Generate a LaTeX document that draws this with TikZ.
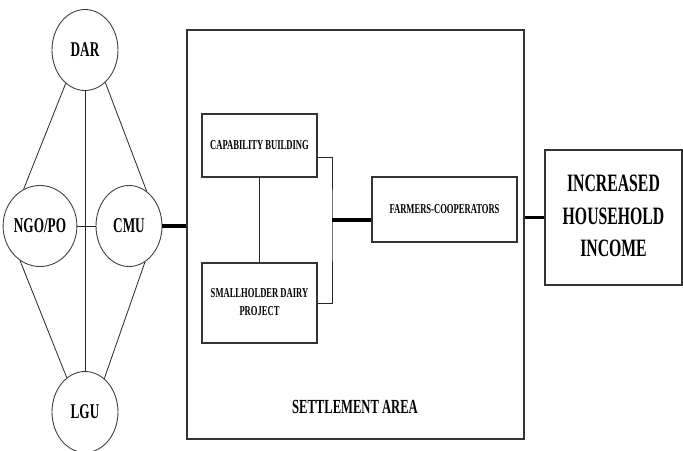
\documentclass[tikz,border=0pt]{standalone}
\usepackage{fontspec}
\setmainfont{Liberation Serif}
\usepackage{graphicx}
\usepackage{tikz}
\usetikzlibrary{shapes.geometric}

\newcommand{\squeeze}[1]{\scalebox{0.63}[1]{#1}}

\begin{document}
\begin{tikzpicture}[%
      x=1pt, y=-1pt,
      agency/.style={draw=black!75, line width=0.9pt, ellipse, inner sep=0pt,
        minimum width=66pt, minimum height=81pt,
        font=\fontsize{21}{24}\selectfont\bfseries},
      block/.style={draw=black!80, line width=1.1pt, rectangle, inner sep=0pt,
        font=\fontsize{13.6}{17.5}\selectfont\bfseries},
      link/.style={color=black!85, line width=0.8pt},
      heavy/.style={color=black, line width=3.5pt},
      ]
      \useasboundingbox (0,0) rectangle (683,450);

      \node[agency] (dar) at (85,50) {\squeeze{DAR}};
      \node[agency] (ngo) at (40,226) {\squeeze{NGO/PO}};
      \node[agency] (cmu) at (129,226) {\squeeze{CMU}};
      \node[agency] (lgu) at (85,412) {\squeeze{LGU}};

      \draw[link] (dar.240) -- (ngo.114);
      \draw[link] (dar.302) -- (cmu.63);
      \draw[link] (ngo.240) -- (lgu.118);
      \draw[link] (cmu.294) -- (lgu.60);
      \draw[link] (dar.south) -- (lgu.north);
      \draw[link] (ngo) -- (cmu);

      \node[block, minimum width=337pt, minimum height=409pt] (area) at (355.5,234.5) {};
      \node[font=\fontsize{20}{24}\selectfont\bfseries] (arealabel) at (355,407) {\squeeze{SETTLEMENT AREA}};

      \node[block, minimum width=115pt, minimum height=63pt] (cap) at (259.5,145.5)
        {\squeeze{CAPABILITY BUILDING}};
      \node[block, minimum width=115pt, minimum height=80pt] (dairy) at (259.5,303)
        {\raisebox{-5pt}{\squeeze{\begin{tabular}{@{}c@{}}SMALLHOLDER DAIRY\\PROJECT\end{tabular}}}};
      \node[block, minimum width=145pt, minimum height=65pt] (farmers) at (444.5,209.5)
        {\squeeze{FARMERS-COOPERATORS}};
      \node[block, minimum width=137pt, minimum height=135pt,
        font=\fontsize{25}{32.5}\selectfont\bfseries] (income) at (613.5,217.5)
        {\squeeze{\begin{tabular}{@{}c@{}}INCREASED\\HOUSEHOLD\\INCOME\end{tabular}}};

      \coordinate (fork) at (332,220);
      \draw[link] (cap) -- (dairy);
      \draw[link] ([yshift=-12pt]cap.east) -| (fork) |- (dairy.east);

      \draw[heavy] (cmu.east) -- (cmu.east -| area.west);
      \draw[heavy] (fork) -- (fork -| farmers.west);
      \draw[heavy] (area.east |- income.west) -- (income.west);
      \end{tikzpicture}
\end{document}
